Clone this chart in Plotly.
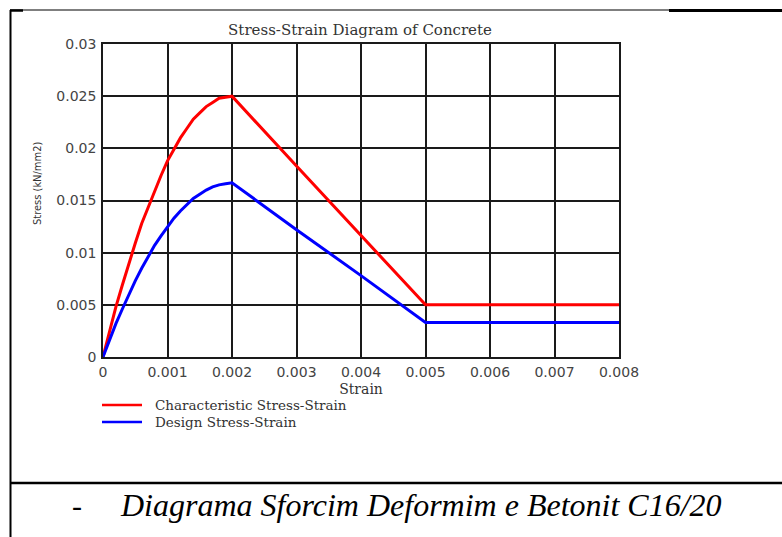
import plotly.graph_objects as go

# ---- data ----
strain = [0.0, 0.0001, 0.0002, 0.0003, 0.0004, 0.0005, 0.0006, 0.0007, 0.0008, 0.0009,
          0.0010, 0.0011, 0.0012, 0.0013, 0.0014, 0.0015, 0.0016, 0.0017, 0.0018, 0.0019,
          0.0020, 0.0030, 0.0040, 0.0050, 0.0080]
characteristic = [0.0, 0.0024, 0.0048, 0.0069, 0.0090, 0.0109, 0.0128, 0.0144, 0.0160, 0.0174,
                  0.0188, 0.0199, 0.0210, 0.0219, 0.0228, 0.0234, 0.0240, 0.0244, 0.0248, 0.0249,
                  0.0250, 0.0183, 0.0117, 0.0050, 0.0050]
design = [0.0, 0.0016, 0.0032, 0.0046, 0.0060, 0.0073, 0.0085, 0.0096, 0.0107, 0.0116,
          0.0125, 0.0133, 0.0140, 0.0146, 0.0152, 0.0156, 0.0160, 0.0163, 0.0165, 0.0166,
          0.0167, 0.0122, 0.0078, 0.0033, 0.0033]

x_tickvals = [0, 0.001, 0.002, 0.003, 0.004, 0.005, 0.006, 0.007, 0.008]
x_ticktext = ["0", "0.001", "0.002", "0.003", "0.004", "0.005", "0.006", "0.007", "0.008"]
y_tickvals = [0, 0.005, 0.01, 0.015, 0.02, 0.025, 0.03]
y_ticktext = ["0", "0.005", "0.01", "0.015", "0.02", "0.025", "0.03"]

series_names = ["Characteristic Stress-Strain", "Design Stress-Strain"]
series_colors = ["#ff0000", "#0000ff"]
title_text = "Stress-Strain Diagram of Concrete"
x_title = "Strain"
y_title = "Stress (kN/mm2)"
caption = "Diagrama Sforcim Deformim e Betonit C16/20"

# ---- layout geometry (pixels) ----
W, H = 782, 537
L, R, T, B = 103, 619, 44, 357


def xp(px):
    return (px - L) / (R - L)


def yp(py):
    return (B - py) / (B - T)


serif = "DejaVu Serif, Liberation Serif, serif"
sans = "DejaVu Sans, Verdana, sans-serif"

fig = go.Figure()
for name, vals, col in zip(series_names, [characteristic, design], series_colors):
    fig.add_trace(go.Scatter(x=strain, y=vals, mode="lines", name=name,
                             line=dict(color=col, width=3), showlegend=False))

axis_common = dict(showgrid=True, gridcolor="#1a1a1a", gridwidth=1.5,
                   showline=True, linecolor="#1a1a1a", linewidth=1.5, mirror=True,
                   zeroline=False, ticks="", tickfont=dict(family=sans, size=14, color="#444444"))

fig.update_xaxes(range=[0, 0.008], tickvals=x_tickvals, ticktext=x_ticktext,
                 ticklabelstandoff=1,
                 title=dict(text=x_title, font=dict(family=serif, size=14, color="#333333"), standoff=6),
                 **axis_common)
fig.update_yaxes(range=[0, 0.03], tickvals=y_tickvals, ticktext=y_ticktext,
                 ticklabelstandoff=2,
                 **axis_common)

shapes = [
    # left page border
    dict(type="line", xref="paper", yref="paper", x0=xp(10.5), x1=xp(10.5), y0=yp(10), y1=yp(540),
         line=dict(color="black", width=2)),
    # top border (thin)
    dict(type="line", xref="paper", yref="paper", x0=xp(10), x1=xp(669), y0=yp(10), y1=yp(10),
         line=dict(color="black", width=1.2)),
    # top-left thick bit
    dict(type="line", xref="paper", yref="paper", x0=xp(10), x1=xp(23), y0=yp(10.5), y1=yp(10.5),
         line=dict(color="black", width=2.5)),
    # top border (thick right part)
    dict(type="line", xref="paper", yref="paper", x0=xp(669), x1=xp(782), y0=yp(10.5), y1=yp(10.5),
         line=dict(color="black", width=3)),
    # separator above caption
    dict(type="line", xref="paper", yref="paper", x0=xp(10), x1=xp(782), y0=yp(483), y1=yp(483),
         line=dict(color="black", width=2.5)),
]

annotations = [
    dict(text=y_title, xref="paper", yref="paper", x=xp(37), y=yp(184), showarrow=False,
         textangle=-90, xanchor="center", yanchor="middle",
         font=dict(family="Liberation Sans Narrow, DejaVu Sans Condensed, Liberation Sans, sans-serif",
                   size=11, color="#333333")),
    dict(text="-", xref="paper", yref="paper", x=xp(77), y=yp(505), showarrow=False,
         xanchor="center", yanchor="middle",
         font=dict(family="Liberation Serif, Times New Roman, serif", size=30, color="black")),
    dict(text=caption, xref="paper", yref="paper", x=xp(421), y=yp(505), showarrow=False,
         xanchor="center", yanchor="middle",
         font=dict(family="Liberation Serif, Times New Roman, serif", size=32, color="black",
                   style="italic")),
]

# legend drawn below the plot (sample line + label for each series)
legend_rows = [405, 422]
for name, col, row in zip(series_names, series_colors, legend_rows):
    shapes.append(dict(type="line", xref="paper", yref="paper", x0=xp(102), x1=xp(142),
                       y0=yp(row), y1=yp(row), line=dict(color=col, width=2.5)))
    annotations.append(dict(text=name, xref="paper", yref="paper", x=xp(154), y=yp(row),
                            showarrow=False, xanchor="left", yanchor="middle", borderpad=0,
                            font=dict(family=serif, size=13.5, color="#333333")))

fig.update_layout(
    width=W, height=H,
    margin=dict(l=L, r=W - R, t=T, b=H - B, pad=0),
    paper_bgcolor="white", plot_bgcolor="white",
    title=dict(text=title_text, x=360 / W, xanchor="center", y=1 - 30 / H, yanchor="middle",
               xref="container", yref="container",
               font=dict(family=serif, size=15, color="#333333")),
    showlegend=False,
    shapes=shapes,
    annotations=annotations,
)

fig.write_html("out.html")
